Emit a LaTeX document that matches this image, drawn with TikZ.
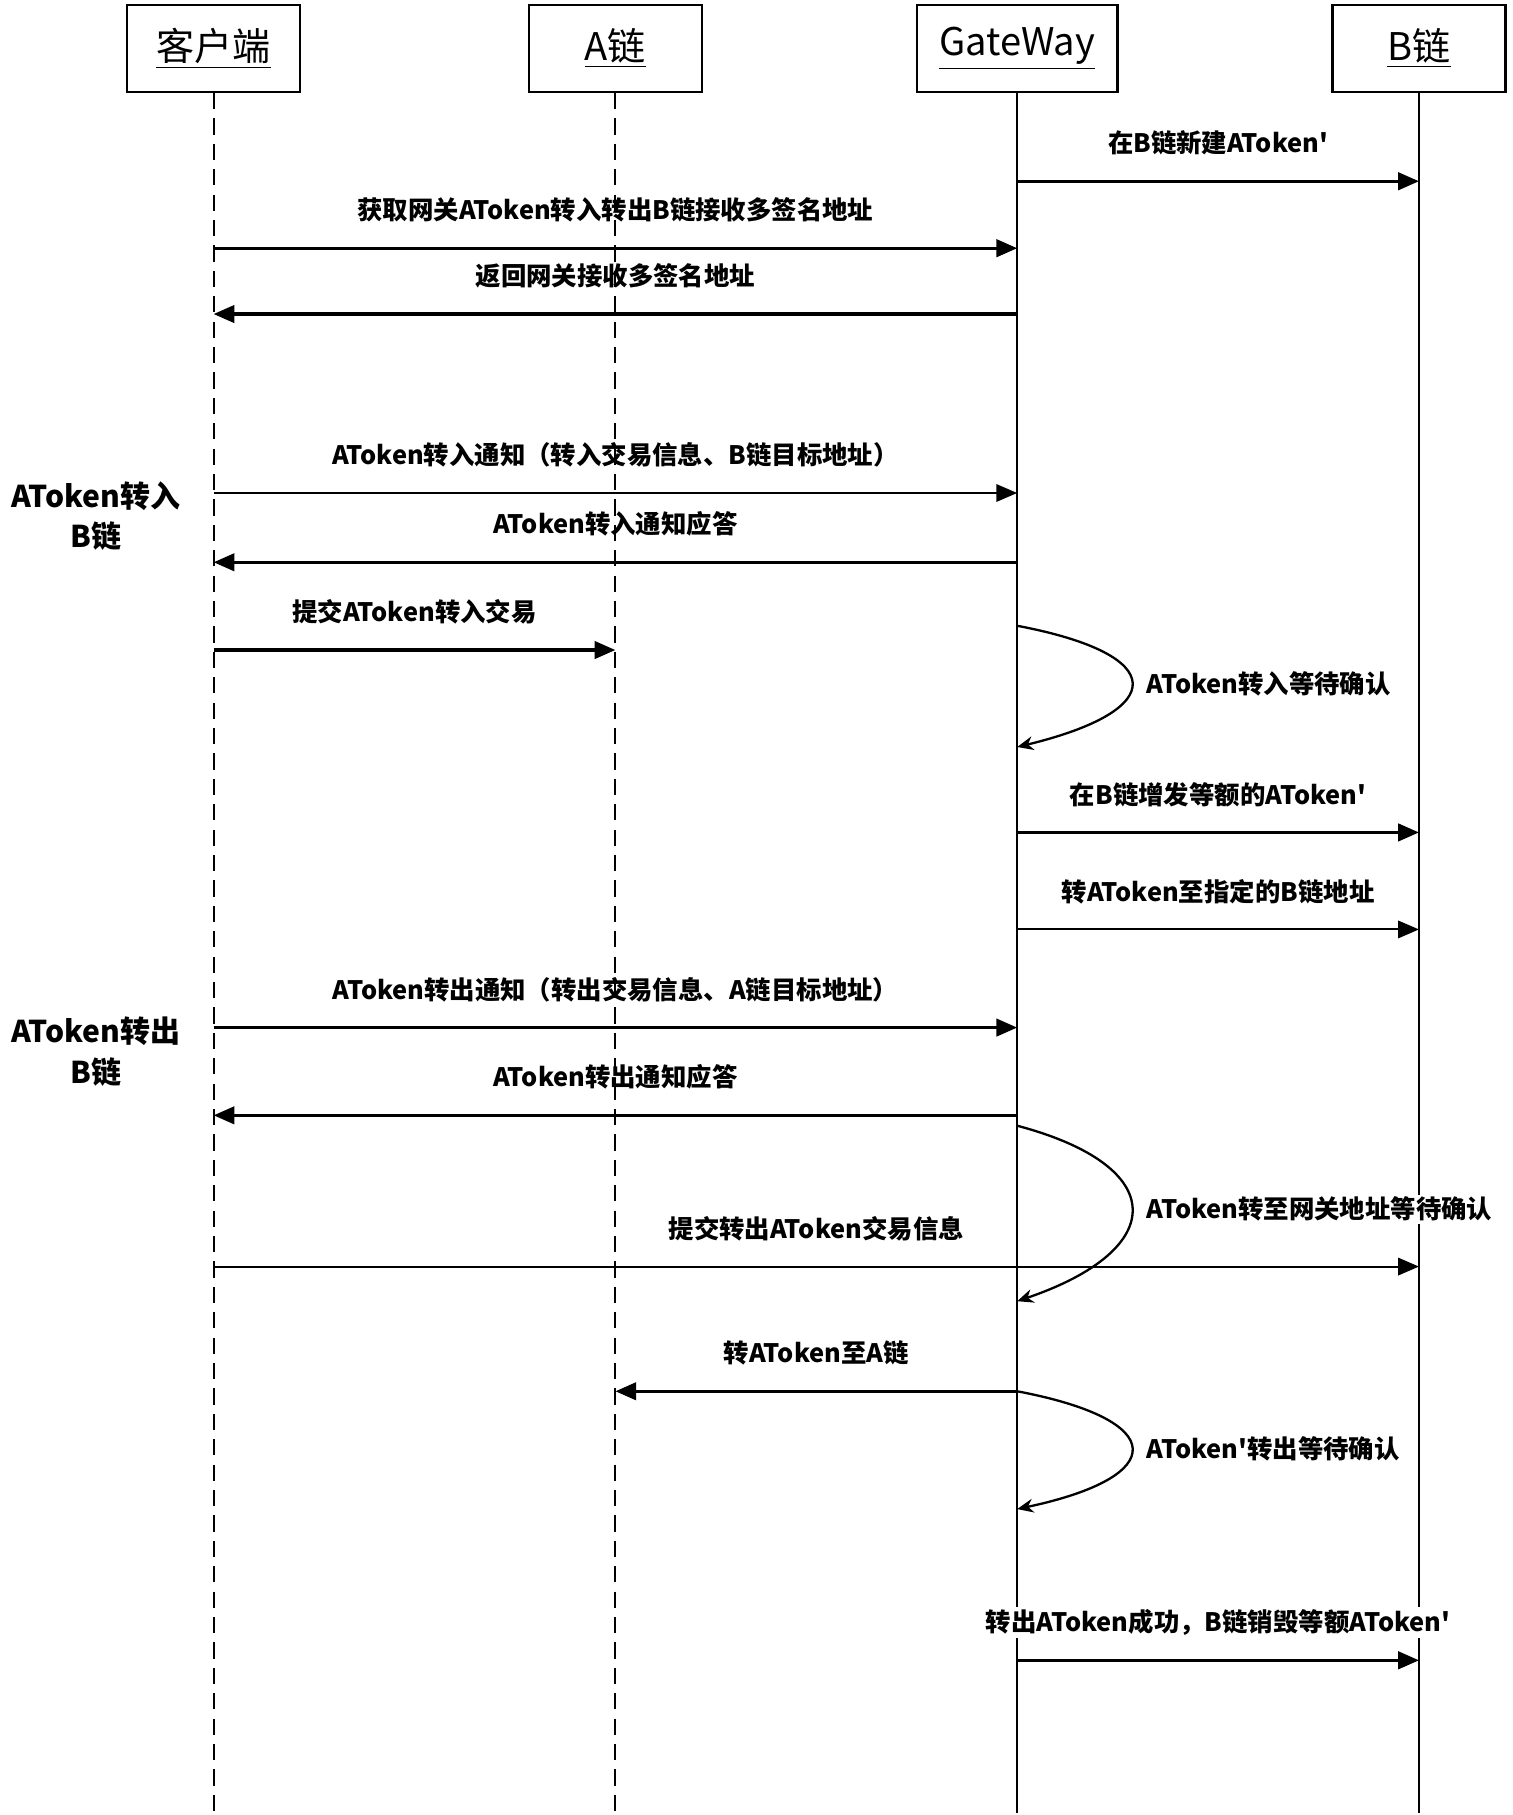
\documentclass[tikz,border=0pt]{standalone}
\usepackage{fontspec}
\setmainfont{Noto Sans CJK SC}
\usetikzlibrary{arrows.meta}
\definecolor{seqline}{gray}{0}
\newcommand{\tick}{\textquotesingle}

\tikzset{
  lifebox/.style={draw=seqline, fill=white, line width=1pt, minimum width=75pt,
    minimum height=37.5pt, font=\fontsize{16.5}{18}\selectfont},
  lifesolid/.style={draw=seqline, line width=1pt},
  lifedash/.style={draw=seqline, line width=0.9pt, dash pattern=on 7pt off 4pt},
  msg/.style={draw=seqline, line width=1.4pt, -{Triangle[length=9pt, width=7.5pt]}},
  thinmsg/.style={msg, line width=0.9pt},
  selfloop/.style={draw=seqline, line width=1pt, -{Stealth[length=7pt, width=6pt]}},
  msglabel/.style={midway, yshift=16.5pt, fill=white, inner sep=1pt,
    font=\bfseries\fontsize{11}{13}\selectfont},
  looplabel/.style={pos=0.5, anchor=west, xshift=5pt, fill=white, inner sep=1pt,
    font=\bfseries\fontsize{11}{13}\selectfont},
  sidelabel/.style={align=center, font=\bfseries\fontsize{13}{17.5}\selectfont}
}

% message from lifeline #2 to lifeline #3 at height #4
\newcommand{\seqmsg}[5][msg]{%
  \coordinate (#2-#4) at (#2 |- 0,#4);
  \coordinate (#3-#4) at (#3 |- 0,#4);
  \draw[#1] (#2-#4) -- node[msglabel] {#5} (#3-#4);
}

\begin{document}
\begin{tikzpicture}[x=0.5pt, y=-0.5pt]
  \useasboundingbox (0,0) rectangle (1310,1572);

  % heads
  \node[lifebox] (client) at (185,42) {\underline{客户端}};
  \node[lifebox] (achain) at (533,42) {\underline{A链}};
  \node[lifebox, minimum width=87pt] (gw) at (881,42) {\underline{GateWay}};
  \node[lifebox] (bchain) at (1229,42) {\underline{B链}};

  \foreach \life in {client, achain, gw, bchain}
    \coordinate (\life-end) at (\life |- 0,1570);

  \draw[lifesolid] (gw.south) -- (gw-end);
  \draw[lifesolid] (bchain.south) -- (bchain-end);

  % side notes
  \node[sidelabel] (inlabel) at (83,447) {AToken转入\\B链};
  \node[sidelabel] (outlabel) at (83,911) {AToken转出\\B链};

  % messages
  \seqmsg{gw}{bchain}{157}{在B链新建AToken\tick}
  \seqmsg{client}{gw}{215}{获取网关AToken转入转出B链接收多签名地址}
  \seqmsg{gw}{client}{272}{返回网关接收多签名地址}
  \seqmsg[thinmsg]{client}{gw}{427}{AToken转入通知（转入交易信息、B链目标地址）}
  \seqmsg{gw}{client}{487}{AToken转入通知应答}
  \seqmsg{client}{achain}{563}{提交AToken转入交易}
  \seqmsg{gw}{bchain}{721}{在B链增发等额的AToken\tick}
  \seqmsg[thinmsg]{gw}{bchain}{805}{转AToken至指定的B链地址}
  \seqmsg{client}{gw}{890}{AToken转出通知（转出交易信息、A链目标地址）}
  \seqmsg{gw}{client}{966}{AToken转出通知应答}
  \seqmsg[thinmsg]{client}{bchain}{1097}{提交转出AToken交易信息}
  \seqmsg{gw}{achain}{1205}{转AToken至A链}
  \seqmsg{gw}{bchain}{1438}{转出AToken成功，B链销毁等额AToken\tick}

  % waiting loops on the gateway
  \coordinate (waitin-s) at (gw |- 0,542);
  \coordinate (waitin-e) at (gw |- 0,647);
  \draw[selfloop] (waitin-s) .. controls +(132,25) and +(132,-32) ..
    node[looplabel] {AToken转入等待确认} (waitin-e);

  \coordinate (waitgw-s) at (gw |- 0,975);
  \coordinate (waitgw-e) at (gw |- 0,1127);
  \draw[selfloop] (waitgw-s) .. controls +(132,35) and +(132,-45) ..
    node[looplabel] {AToken转至网关地址等待确认} (waitgw-e);

  \coordinate (waitout-e) at (gw |- 0,1307);
  \draw[selfloop] (gw-1205) .. controls +(132,25) and +(132,-28) ..
    node[looplabel] {AToken\tick 转出等待确认} (waitout-e);

  \draw[lifedash] (client.south) -- (client-end);
  \draw[lifedash] (achain.south) -- (achain-end);
\end{tikzpicture}
\end{document}
